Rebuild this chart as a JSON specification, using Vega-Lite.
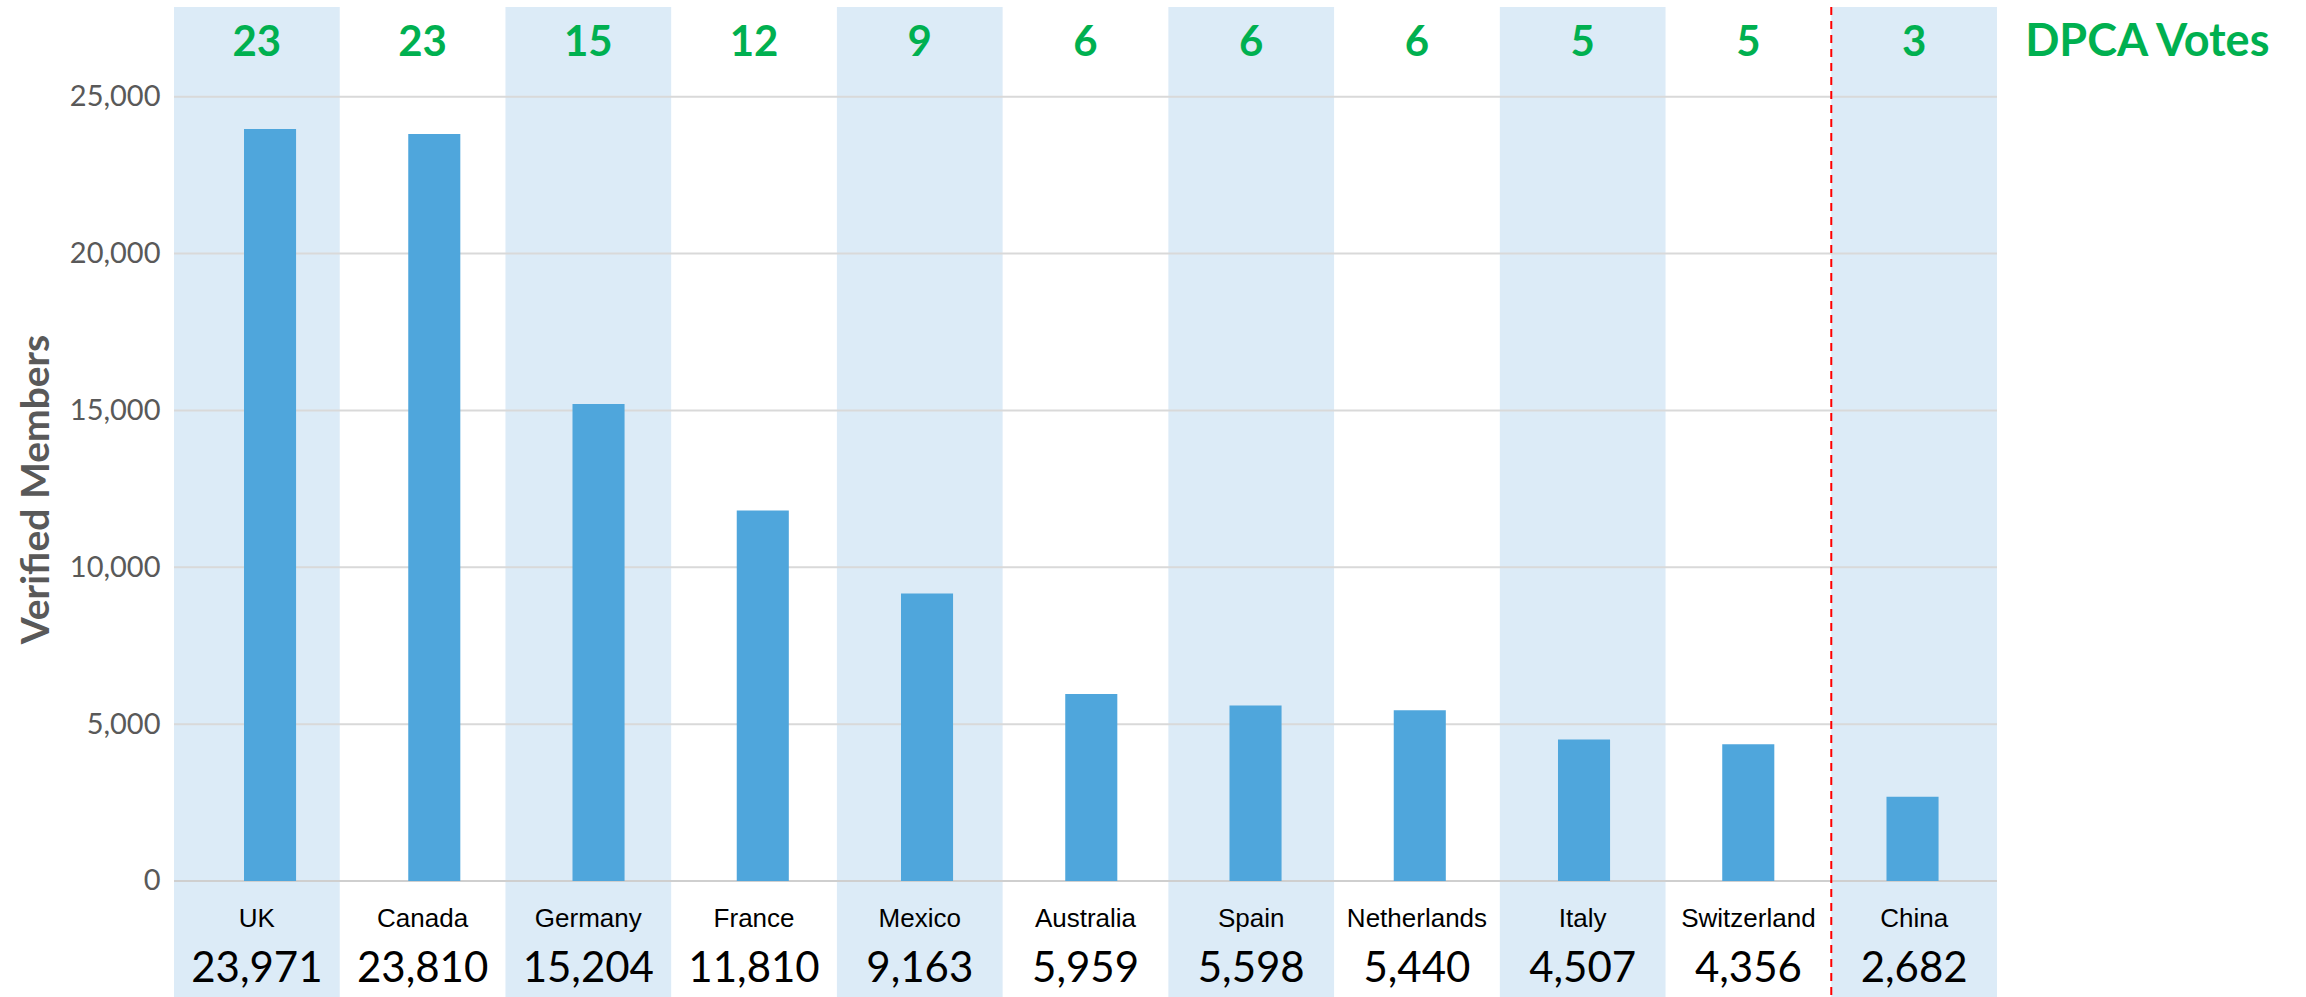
{
  "$schema": "https://vega.github.io/schema/vega-lite/v6.json",
  "width": 1823,
  "height": 990,
  "autosize": {"type": "none"},
  "padding": {"left": 174, "top": 7, "right": 309, "bottom": 0},
  "background": "white",
  "config": {
    "view": {"stroke": null},
    "axisY": {"grid": false, "domain": false, "ticks": false,
              "labelFont": "Lato", "labelFontSize": 29, "labelColor": "#595959", "labelPadding": 14,
              "titleFont": "Lato", "titleFontWeight": "bold", "titleFontSize": 39, "titleColor": "#595959",
              "titlePadding": 13, "titleY": 482}
  },
  "datasets": {
    "countries": [
      {"country": "UK", "members": 23971, "votes": 23},
      {"country": "Canada", "members": 23810, "votes": 23},
      {"country": "Germany", "members": 15204, "votes": 15},
      {"country": "France", "members": 11810, "votes": 12},
      {"country": "Mexico", "members": 9163, "votes": 9},
      {"country": "Australia", "members": 5959, "votes": 6},
      {"country": "Spain", "members": 5598, "votes": 6},
      {"country": "Netherlands", "members": 5440, "votes": 6},
      {"country": "Italy", "members": 4507, "votes": 5},
      {"country": "Switzerland", "members": 4356, "votes": 5},
      {"country": "China", "members": 2682, "votes": 3}
    ],
    "grid": [{"v": 0}, {"v": 5000}, {"v": 10000}, {"v": 15000}, {"v": 20000}, {"v": 25000}],
    "boundary": [{"boundary": "China"}],
    "header": [{"label": "DPCA Votes"}]
  },
  "data": {"name": "countries"},
  "resolve": {"scale": {"x": "independent"}},
  "layer": [
    {
      "layer": [
        {
          "transform": [{"filter": {"field": "country", "oneOf": ["UK", "Germany", "Mexico", "Spain", "Italy", "China"]}}],
          "mark": {"type": "rect", "color": "#DCEBF7"},
          "encoding": {
            "x": {"field": "country", "type": "nominal", "axis": null,
                  "scale": {"type": "band", "domain": ["UK","Canada","Germany","France","Mexico","Australia","Spain","Netherlands","Italy","Switzerland","China"], "paddingInner": 0, "paddingOuter": 0}}
          }
        },
        {
          "data": {"name": "grid"},
          "mark": {"type": "rule", "strokeWidth": 2},
          "encoding": {
            "y": {"field": "v", "type": "quantitative",
                  "scale": {"domain": [-3697.6, 27859], "nice": false, "zero": false},
                  "axis": {"title": "Verified Members", "values": [0, 5000, 10000, 15000, 20000, 25000], "format": ",d"}},
            "color": {"condition": {"test": "datum.v === 0", "value": "#CFCFCF"}, "value": "#D9D9D9"}
          }
        }
      ]
    },
    {
      "mark": {"type": "bar", "color": "#4FA6DC"},
      "encoding": {
        "x": {"field": "country", "type": "nominal", "axis": null,
              "scale": {"type": "band", "domain": ["UK","Canada","Germany","France","Mexico","Australia","Spain","Netherlands","Italy","Switzerland","China"], "paddingInner": 0.683, "paddingOuter": 0.391, "align": 0.545}},
        "y": {"field": "members", "type": "quantitative",
              "scale": {"domain": [-3697.6, 27859], "nice": false, "zero": false},
              "axis": {"title": "Verified Members", "values": [0, 5000, 10000, 15000, 20000, 25000], "format": ",d"}}
      }
    },
    {
      "layer": [
        {
          "data": {"name": "boundary"},
          "mark": {"type": "rule", "color": "#FF0000", "strokeWidth": 2, "strokeDash": [8, 6]},
          "encoding": {
            "x": {"field": "boundary", "type": "nominal", "bandPosition": 0, "axis": null,
                  "scale": {"type": "band", "domain": ["UK","Canada","Germany","France","Mexico","Australia","Spain","Netherlands","Italy","Switzerland","China"], "paddingInner": 0, "paddingOuter": 0}}
          }
        },
        {
          "mark": {"type": "text", "font": "Lato", "fontWeight": "bold", "fontSize": 42, "color": "#00B050", "baseline": "alphabetic", "align": "center"},
          "encoding": {
            "x": {"field": "country", "type": "nominal", "axis": null,
                  "scale": {"type": "band", "domain": ["UK","Canada","Germany","France","Mexico","Australia","Spain","Netherlands","Italy","Switzerland","China"], "paddingInner": 0, "paddingOuter": 0}},
            "y": {"datum": 26297, "type": "quantitative",
                  "scale": {"domain": [-3697.6, 27859], "nice": false, "zero": false},
                  "axis": {"title": "Verified Members", "values": [0, 5000, 10000, 15000, 20000, 25000], "format": ",d"}},
            "text": {"field": "votes", "type": "quantitative"}
          }
        },
        {
          "mark": {"type": "text", "font": "Liberation Sans", "fontSize": 26, "color": "#000000", "baseline": "alphabetic", "align": "center"},
          "encoding": {
            "x": {"field": "country", "type": "nominal", "axis": null,
                  "scale": {"type": "band", "domain": ["UK","Canada","Germany","France","Mexico","Australia","Spain","Netherlands","Italy","Switzerland","China"], "paddingInner": 0, "paddingOuter": 0}},
            "y": {"datum": -1466, "type": "quantitative",
                  "scale": {"domain": [-3697.6, 27859], "nice": false, "zero": false},
                  "axis": {"title": "Verified Members", "values": [0, 5000, 10000, 15000, 20000, 25000], "format": ",d"}},
            "text": {"field": "country", "type": "nominal"}
          }
        },
        {
          "mark": {"type": "text", "font": "Lato", "fontSize": 42, "color": "#000000", "baseline": "alphabetic", "align": "center"},
          "encoding": {
            "x": {"field": "country", "type": "nominal", "axis": null,
                  "scale": {"type": "band", "domain": ["UK","Canada","Germany","France","Mexico","Australia","Spain","Netherlands","Italy","Switzerland","China"], "paddingInner": 0, "paddingOuter": 0}},
            "y": {"datum": -3219, "type": "quantitative",
                  "scale": {"domain": [-3697.6, 27859], "nice": false, "zero": false},
                  "axis": {"title": "Verified Members", "values": [0, 5000, 10000, 15000, 20000, 25000], "format": ",d"}},
            "text": {"field": "members", "type": "quantitative", "format": ","}
          }
        },
        {
          "data": {"name": "header"},
          "mark": {"type": "text", "font": "Lato", "fontWeight": "bold", "fontSize": 45, "color": "#00B050", "baseline": "alphabetic", "align": "left", "dx": 111},
          "encoding": {
            "x": {"datum": "China", "type": "nominal", "axis": null,
                  "scale": {"type": "band", "domain": ["UK","Canada","Germany","France","Mexico","Australia","Spain","Netherlands","Italy","Switzerland","China"], "paddingInner": 0, "paddingOuter": 0}},
            "y": {"datum": 26297, "type": "quantitative",
                  "scale": {"domain": [-3697.6, 27859], "nice": false, "zero": false},
                  "axis": {"title": "Verified Members", "values": [0, 5000, 10000, 15000, 20000, 25000], "format": ",d"}},
            "text": {"field": "label", "type": "nominal"}
          }
        }
      ]
    }
  ]
}
